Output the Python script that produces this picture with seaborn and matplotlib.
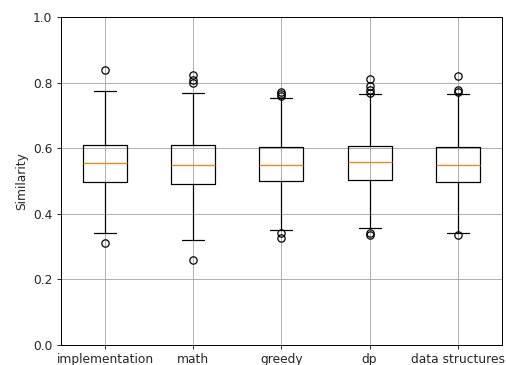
import matplotlib
matplotlib.use("Agg")
import matplotlib.pyplot as plt
import seaborn as sns

# box statistics
categories = ["implementation", "math", "greedy", "dp", "data structures"]
medians = [0.554, 0.549, 0.549, 0.557, 0.549]
q1 = [0.497, 0.492, 0.499, 0.502, 0.497]
q3 = [0.611, 0.611, 0.604, 0.608, 0.605]
whisk_lo = [0.340, 0.319, 0.352, 0.356, 0.340]
whisk_hi = [0.774, 0.768, 0.752, 0.767, 0.765]
fliers = [
    [0.838, 0.310],
    [0.823, 0.808, 0.798, 0.259],
    [0.771, 0.765, 0.760, 0.342, 0.325],
    [0.810, 0.790, 0.777, 0.769, 0.341, 0.335],
    [0.820, 0.777, 0.772, 0.334],
]

sns.set_style("ticks")
plt.rcParams["font.family"] = ["DejaVu Sans"]

stats = []
for i, name in enumerate(categories):
    stats.append({
        "label": name,
        "med": medians[i],
        "q1": q1[i],
        "q3": q3[i],
        "whislo": whisk_lo[i],
        "whishi": whisk_hi[i],
        "fliers": fliers[i],
    })

DPI = 88
fig = plt.figure(figsize=(507 / DPI, 365 / DPI), dpi=DPI)
ax = fig.add_axes([0.12, 0.055, 0.87, 0.898])

orange = sns.color_palette("tab10")[1]
ax.bxp(stats, widths=0.5,
       boxprops=dict(color="black", linewidth=1),
       whiskerprops=dict(color="black", linewidth=1),
       capprops=dict(color="black", linewidth=1),
       medianprops=dict(color=orange, linewidth=1),
       flierprops=dict(marker="o", markerfacecolor="none",
                       markeredgecolor="black", markersize=6))

ax.set_ylim(0, 1)
ax.set_yticks([0.0, 0.2, 0.4, 0.6, 0.8, 1.0])
ax.set_ylabel("Similarity")
ax.grid(True, color="#b0b0b0", linewidth=0.8)
ax.set_axisbelow(True)
for s in ax.spines.values():
    s.set_visible(True)
    s.set_color("black")
    s.set_linewidth(0.8)
ax.tick_params(axis="both", labelsize=10, direction="out", length=3.5, width=0.8)

fig.savefig("out.png", dpi=DPI)
